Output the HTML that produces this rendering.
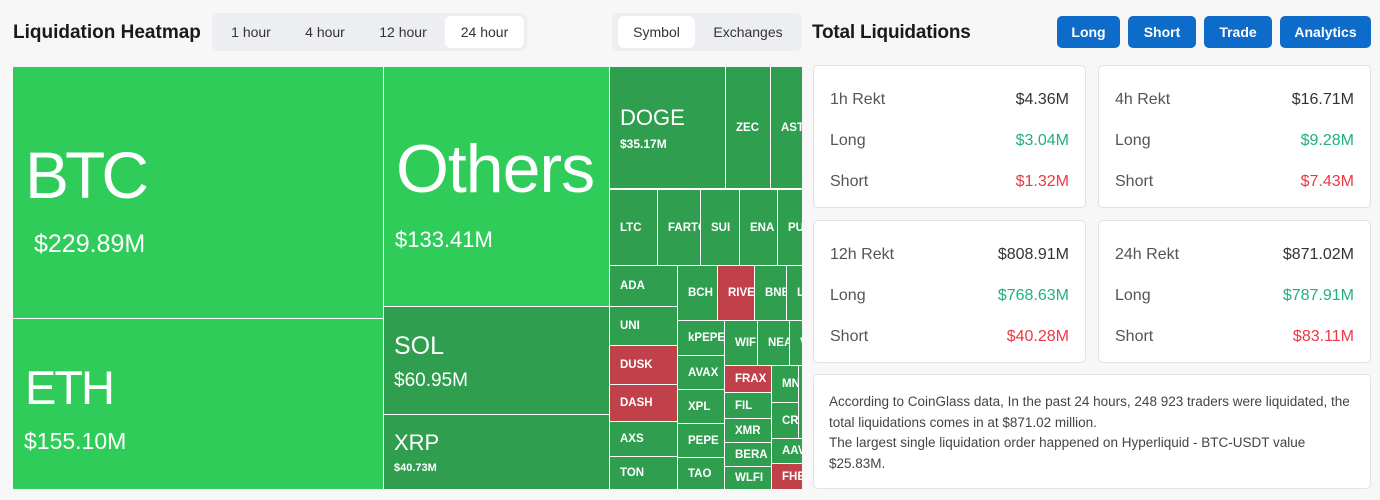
<!DOCTYPE html>
<html><head><meta charset="utf-8"><style>
*{margin:0;padding:0;box-sizing:border-box}
body{width:1380px;height:500px;background:#f7f7f8;font-family:"Liberation Sans",sans-serif;position:relative;overflow:hidden;color:#222}
.a{position:absolute}
.t{position:absolute;color:#fff;overflow:hidden;white-space:nowrap}
.g{background:#30cc5a}.d{background:#2f9e4f}.r{background:#c1414a}
.s{display:flex;align-items:center;padding-left:10px;font-size:11.5px;font-weight:bold}
.lb{position:absolute;line-height:1;white-space:nowrap}
.tab{position:absolute;top:16px;height:32px;font-size:14px;color:#333;line-height:32px;text-align:center;border-radius:6px}
.btn{position:absolute;top:16px;height:32px;background:#0d6bc9;color:#fff;font-weight:bold;font-size:14px;line-height:32px;text-align:center;border-radius:5px}
.card{position:absolute;background:#fff;border:1px solid #e2e2e2;border-radius:5px}
.row{position:absolute;left:16px;right:16px;font-size:16px;color:#555;display:flex;justify-content:space-between}
.row b{font-weight:normal}
.gr{color:#22b07d}.rd{color:#ea3943}
</style></head><body>
<div class="a" style="left:13px;top:22px;font-size:19px;font-weight:bold;color:#1a1a1a">Liquidation Heatmap</div>
<div class="a" style="left:212px;top:13px;width:315px;height:38px;background:#eceef2;border-radius:7px"></div>
<div class="tab" style="left:218px;width:66px">1 hour</div>
<div class="tab" style="left:290px;width:70px">4 hour</div>
<div class="tab" style="left:366px;width:74px">12 hour</div>
<div class="tab" style="left:445px;width:79px;background:#fff">24 hour</div>
<div class="a" style="left:612px;top:13px;width:190px;height:38px;background:#eceef2;border-radius:7px"></div>
<div class="tab" style="left:618px;width:77px;background:#fff">Symbol</div>
<div class="tab" style="left:700px;width:96px">Exchanges</div>

<div class="a" style="left:13px;top:67px;width:789px;height:422px;background:#fff"></div>
<div class="t g" style="left:13px;top:67px;width:370px;height:251px"><span class="lb" style="left:12px;top:75px;font-size:66px;letter-spacing:-4px">BTC</span><span class="lb" style="left:21px;top:165px;font-size:25px">$229.89M</span></div>
<div class="t g" style="left:13px;top:319px;width:370px;height:170px"><span class="lb" style="left:12px;top:45px;font-size:47px;letter-spacing:-2px">ETH</span><span class="lb" style="left:11px;top:111px;font-size:23px">$155.10M</span></div>
<div class="t g" style="left:384px;top:67px;width:225px;height:239px"><span class="lb" style="left:12px;top:68px;font-size:68px;letter-spacing:-1px">Others</span><span class="lb" style="left:11px;top:162px;font-size:22px">$133.41M</span></div>
<div class="t d" style="left:384px;top:307px;width:225px;height:107px"><span class="lb" style="left:10px;top:27px;font-size:25px">SOL</span><span class="lb" style="left:10px;top:64px;font-size:19px">$60.95M</span></div>
<div class="t d" style="left:384px;top:415px;width:225px;height:74px"><span class="lb" style="left:10px;top:17px;font-size:22px">XRP</span><span class="lb" style="left:10px;top:48px;font-size:11px;font-weight:bold">$40.73M</span></div>

<div class="t d" style="left:610px;top:67px;width:115px;height:121px"><span class="lb" style="left:10px;top:40px;font-size:22px">DOGE</span><span class="lb" style="left:10px;top:71px;font-size:12px;font-weight:bold">$35.17M</span></div>
<div class="t d s" style="left:726px;top:67px;width:44px;height:121px">ZEC</div>
<div class="t d s" style="left:771px;top:67px;width:31px;height:121px">AST</div>
<div class="t d s" style="left:610px;top:190px;width:47px;height:75px">LTC</div>
<div class="t d s" style="left:658px;top:190px;width:42px;height:75px">FARTC</div>
<div class="t d s" style="left:701px;top:190px;width:38px;height:75px">SUI</div>
<div class="t d s" style="left:740px;top:190px;width:37px;height:75px">ENA</div>
<div class="t d s" style="left:778px;top:190px;width:24px;height:75px">PU</div>

<div class="t d s" style="left:610px;top:266px;width:67px;height:40px">ADA</div>
<div class="t d s" style="left:610px;top:307px;width:67px;height:38px">UNI</div>
<div class="t r s" style="left:610px;top:346px;width:67px;height:38px">DUSK</div>
<div class="t r s" style="left:610px;top:385px;width:67px;height:36px">DASH</div>
<div class="t d s" style="left:610px;top:422px;width:67px;height:34px">AXS</div>
<div class="t d s" style="left:610px;top:457px;width:67px;height:32px">TON</div>

<div class="t d s" style="left:678px;top:266px;width:39px;height:54px">BCH</div>
<div class="t r s" style="left:718px;top:266px;width:36px;height:54px">RIVE</div>
<div class="t d s" style="left:755px;top:266px;width:31px;height:54px">BNB</div>
<div class="t d s" style="left:787px;top:266px;width:15px;height:54px">L</div>
<div class="t d s" style="left:678px;top:321px;width:46px;height:34px">kPEPE</div>
<div class="t d s" style="left:678px;top:356px;width:46px;height:33px">AVAX</div>
<div class="t d s" style="left:678px;top:390px;width:46px;height:33px">XPL</div>
<div class="t d s" style="left:678px;top:424px;width:46px;height:33px">PEPE</div>
<div class="t d s" style="left:678px;top:458px;width:46px;height:31px">TAO</div>
<div class="t d s" style="left:725px;top:321px;width:32px;height:44px">WIF</div>
<div class="t d s" style="left:758px;top:321px;width:31px;height:44px">NEA</div>
<div class="t d s" style="left:790px;top:321px;width:12px;height:44px">V</div>
<div class="t r s" style="left:725px;top:366px;width:46px;height:26px">FRAX</div>
<div class="t d s" style="left:725px;top:393px;width:46px;height:25px">FIL</div>
<div class="t d s" style="left:725px;top:419px;width:46px;height:23px">XMR</div>
<div class="t d s" style="left:725px;top:443px;width:46px;height:23px">BERA</div>
<div class="t d s" style="left:725px;top:467px;width:46px;height:22px">WLFI</div>
<div class="t d s" style="left:772px;top:366px;width:26px;height:36px">MN</div>
<div class="t d" style="left:799px;top:366px;width:3px;height:72px"></div>
<div class="t d s" style="left:772px;top:403px;width:26px;height:35px">CR</div>
<div class="t d s" style="left:772px;top:439px;width:30px;height:24px">AAV</div>
<div class="t r s" style="left:772px;top:464px;width:30px;height:25px">FHE</div>

<div class="a" style="left:812px;top:22px;font-size:19px;font-weight:bold;color:#1a1a1a;letter-spacing:-0.2px">Total Liquidations</div>
<div class="btn" style="left:1057px;width:63px">Long</div>
<div class="btn" style="left:1128px;width:68px">Short</div>
<div class="btn" style="left:1204px;width:68px">Trade</div>
<div class="btn" style="left:1280px;width:91px">Analytics</div>

<div class="card" style="left:813px;top:65px;width:273px;height:143px">
<div class="row" style="top:25px"><span>1h Rekt</span><b style="color:#333">$4.36M</b></div>
<div class="row" style="top:66px"><span>Long</span><b class="gr">$3.04M</b></div>
<div class="row" style="top:107px"><span>Short</span><b class="rd">$1.32M</b></div></div>
<div class="card" style="left:1098px;top:65px;width:273px;height:143px">
<div class="row" style="top:25px"><span>4h Rekt</span><b style="color:#333">$16.71M</b></div>
<div class="row" style="top:66px"><span>Long</span><b class="gr">$9.28M</b></div>
<div class="row" style="top:107px"><span>Short</span><b class="rd">$7.43M</b></div></div>
<div class="card" style="left:813px;top:220px;width:273px;height:143px">
<div class="row" style="top:25px"><span>12h Rekt</span><b style="color:#333">$808.91M</b></div>
<div class="row" style="top:66px"><span>Long</span><b class="gr">$768.63M</b></div>
<div class="row" style="top:107px"><span>Short</span><b class="rd">$40.28M</b></div></div>
<div class="card" style="left:1098px;top:220px;width:273px;height:143px">
<div class="row" style="top:25px"><span>24h Rekt</span><b style="color:#333">$871.02M</b></div>
<div class="row" style="top:66px"><span>Long</span><b class="gr">$787.91M</b></div>
<div class="row" style="top:107px"><span>Short</span><b class="rd">$83.11M</b></div></div>
<div class="card" style="left:813px;top:374px;width:558px;height:115px;padding:17px 15px;font-size:13.5px;line-height:20.5px;color:#444">According to CoinGlass data, In the past 24 hours, 248 923 traders were liquidated, the total liquidations comes in at $871.02 million.<br>The largest single liquidation order happened on Hyperliquid - BTC-USDT value $25.83M.</div>
</body></html>
